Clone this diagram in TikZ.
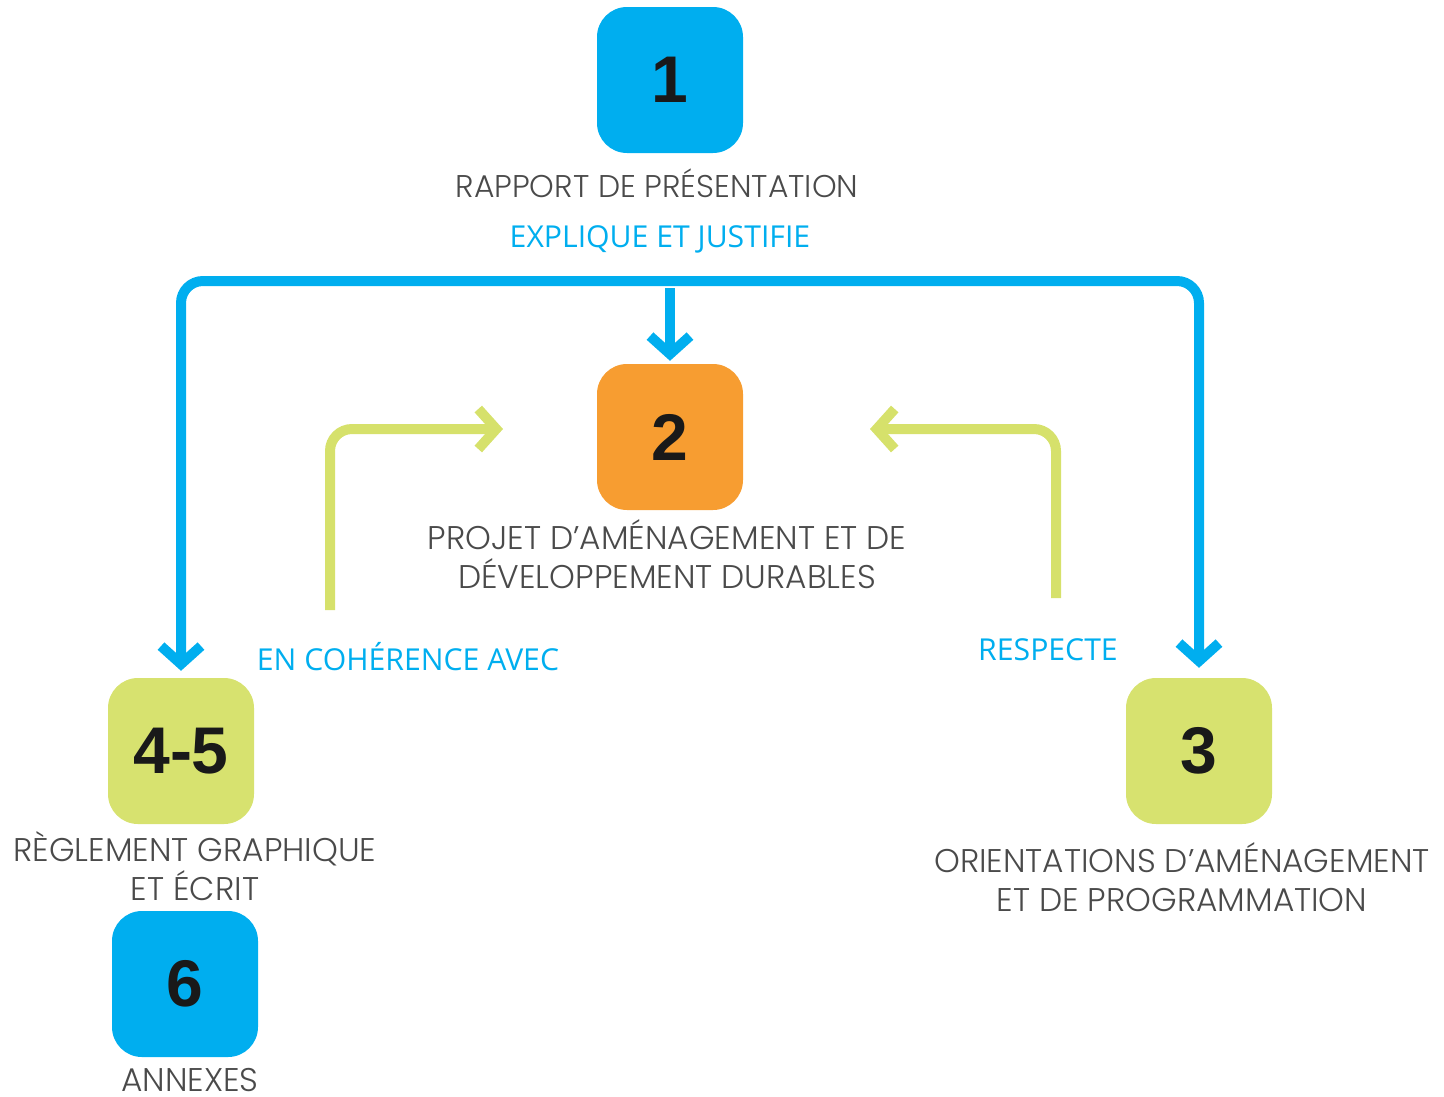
\documentclass[tikz,border=0pt]{standalone}
\usepackage{fontspec}
\setmainfont{Open Sans}
\newfontfamily\thinf{Poppins Light}
\newfontfamily\numf{Liberation Sans}
\usetikzlibrary{arrows.meta}
\definecolor{cblue}{HTML}{00AEEF}
\definecolor{corange}{HTML}{F79D31}
\definecolor{cgreen}{HTML}{D7E26F}
\definecolor{cline}{HTML}{D6E16B}
\definecolor{cgray}{HTML}{4A4A4A}
\tikzset{
  box/.style={minimum size=146pt, rounded corners=30pt, inner sep=0pt,
    text=black!90, font=\numf\bfseries\fontsize{66}{66}\selectfont},
  lbl/.style={anchor=base, text=cgray, align=center, inner sep=0pt,
    font=\thinf\fontsize{31.4}{39}\selectfont},
  lblw/.style={lbl, font=\thinf\fontsize{32.8}{39}\selectfont},
  single/.style={anchor=base, text=cgray, inner sep=0pt, text depth=0pt,
    font=\thinf\fontsize{32.8}{34}\selectfont},
  rel/.style={anchor=base, text=cblue, inner sep=0pt,
    font=\fontsize{30.2}{34}\selectfont},
  chev/.style={-{Straight Barb[length=18pt, width=40pt, line join=miter]}},
  bline/.style={draw=cblue, line width=10pt, rounded corners=22pt},
  gline/.style={draw=cline, line width=10pt, rounded corners=22pt},
}
\begin{document}
\begin{tikzpicture}[x=1pt,y=-1pt]
\useasboundingbox (0,0) rectangle (1444,1096);
% boxes
\node[box, fill=cblue]   (b1)  at (670,80)  {1};
\node[box, fill=corange] (b2)  at (670,437) {2};
\node[box, fill=cgreen]  (b45) at (181,751) {4-5};
\node[box, fill=cgreen]  (b3)  at (1199,751) {3};
\node[box, fill=cblue]   (b6)  at (185,984) {6};
% labels
\node[lbl]  (l1)  at (657,197) {RAPPORT DE PRÉSENTATION};
\node[lblw] (l2)  at (667,588) {PROJET D’AMÉNAGEMENT ET DE\\DÉVELOPPEMENT DURABLES};
\node[lblw] (l45) at (195,900) {RÈGLEMENT GRAPHIQUE\\ET ÉCRIT};
\node[lblw] (l3)  at (1182,911) {ORIENTATIONS D’AMÉNAGEMENT\\ET DE PROGRAMMATION};
\node[single] (l6) at (190,1091) {ANNEXES};
% relation labels
\node[rel] (r1) at (660,247) {EXPLIQUE ET JUSTIFIE};
\node[rel] (r2) at (408,670) {EN COHÉRENCE AVEC};
\node[rel] (r3) at (1048,660) {RESPECTE};
% blue connectors
\coordinate (tl) at (181,281);
\coordinate (tr) at (1199,281);
\coordinate (tc) at (670,288);
\draw[bline, {Straight Barb[length=18pt, width=40pt, line join=miter]}-{Straight Barb[length=18pt, width=40pt, line join=miter]}, shorten <=7pt, shorten >=10pt]
  (b45.north) -- (tl) -- (tr) -- (b3.north);
\draw[bline, chev, shorten >=3pt] (tc) -- (b2.north);
% green connectors
\coordinate (gl0) at (330,610);
\coordinate (gl1) at (330,429);
\coordinate (gl2) at (503,429);
\coordinate (gr0) at (1056,598);
\coordinate (gr1) at (1056,429);
\coordinate (gr2) at (870,429);
\draw[gline, chev] (gl0) -- (gl1) -- (gl2);
\draw[gline, chev] (gr0) -- (gr1) -- (gr2);
\end{tikzpicture}
\end{document}
